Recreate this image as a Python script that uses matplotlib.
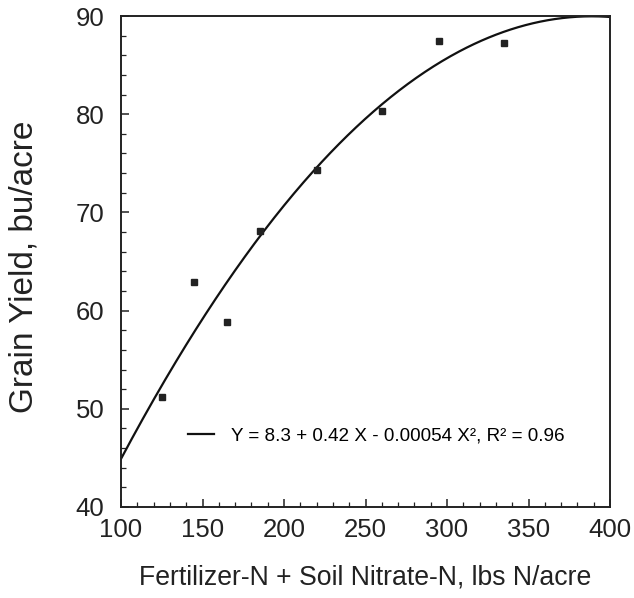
import numpy as np
import matplotlib
matplotlib.use("Agg")
import matplotlib.pyplot as plt
from matplotlib.ticker import MultipleLocator

# Data
n_rate = [125, 145, 165, 185, 220, 260, 295, 335]
grain_yield = [51.2, 62.9, 58.8, 68.1, 74.3, 80.3, 87.5, 87.2]

# Fitted quadratic shown in the legend
coef_a = 8.3
coef_b = 0.42
coef_c = -0.00054
fit_label = "Y = 8.3 + 0.42 X - 0.00054 X², R² = 0.96"

x_label = "Fertilizer-N + Soil Nitrate-N, lbs N/acre"
y_label = "Grain Yield, bu/acre"

plt.rcParams['font.family'] = ['Liberation Sans', 'DejaVu Sans']

fig = plt.figure(figsize=(6.34, 5.98), dpi=100)
ax = fig.add_axes([121/634, 1 - 507/598, (610 - 121)/634, (507 - 16)/598])

xs = np.linspace(100, 400, 400)
ys = coef_a + coef_b * xs + coef_c * xs**2
ax.plot(xs, ys, color='#111111', lw=1.6, label=fit_label, clip_on=True)
ax.plot(n_rate, grain_yield, linestyle='none', marker='s', markersize=4.3,
        color='#222222')

ax.set_xlim(100, 400)
ax.set_ylim(40, 90)

ax.xaxis.set_major_locator(MultipleLocator(50))
ax.xaxis.set_minor_locator(MultipleLocator(10))
ax.yaxis.set_major_locator(MultipleLocator(10))
ax.yaxis.set_minor_locator(MultipleLocator(2))

ax.tick_params(axis='both', which='both', direction='in', top=False, right=False,
               color='#222222')
ax.tick_params(axis='both', which='major', length=6, width=1.1, labelsize=18.5)
ax.tick_params(axis='both', which='minor', length=3.5, width=0.9)
ax.tick_params(axis='x', which='major', pad=8)
ax.tick_params(axis='y', which='major', pad=12)

for s in ax.spines.values():
    s.set_linewidth(1.4)
    s.set_color('#222222')

ax.set_xlabel(x_label, fontsize=19.2, color='#222222')
ax.set_ylabel(y_label, fontsize=24, color='#222222')
ax.xaxis.set_label_coords(0.499, -0.118)
ax.yaxis.set_label_coords(-0.166, 0.49)

for lbl in ax.get_xticklabels() + ax.get_yticklabels():
    lbl.set_color('#222222')

leg = ax.legend(loc='center left', bbox_to_anchor=(0.137, 0.1446), frameon=False,
                fontsize=13.6, handlelength=1.4, handletextpad=0.9,
                borderpad=0, borderaxespad=0)

fig.savefig("out.png", dpi=100, facecolor='white')
